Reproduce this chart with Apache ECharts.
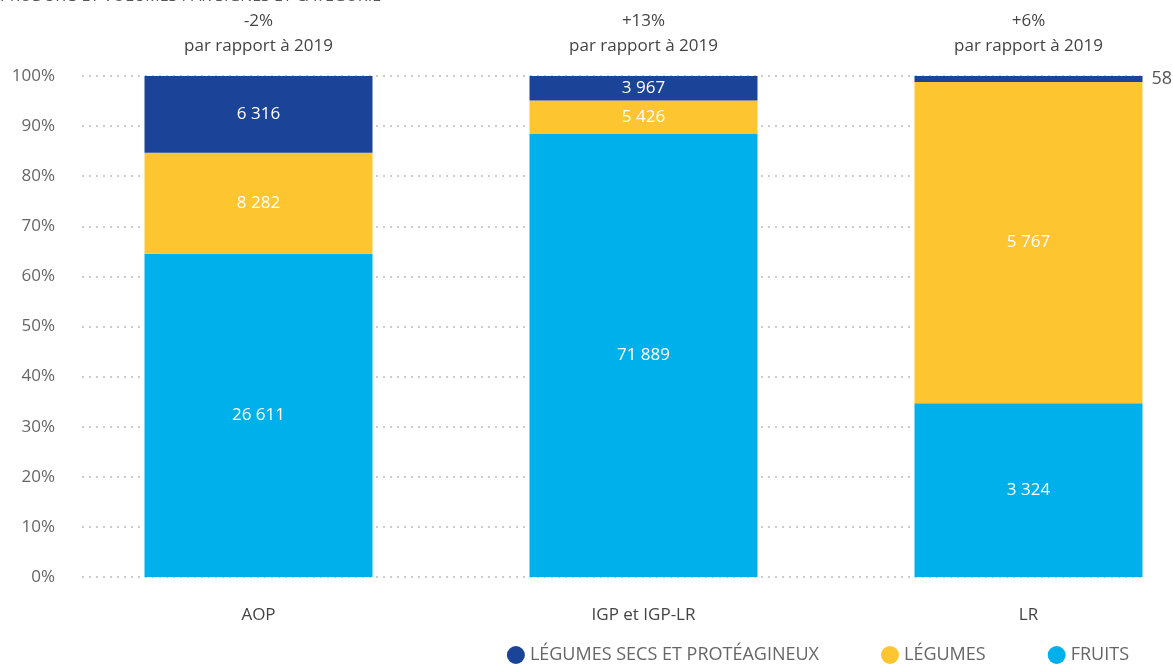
<!DOCTYPE html>
<html>
<head>
<meta charset="utf-8">
<script src="https://cdn.jsdelivr.net/npm/echarts@6/dist/echarts.min.js"></script>
<style>html,body{margin:0;padding:0;background:#fff}#c{width:1173px;height:664px}</style>
</head>
<body>
<div id="c"></div>
<script>
const categories = ['AOP', 'IGP et IGP-LR', 'LR'];
const changeLabels = ['-2%', '+13%', '+6%'];
const seriesNames = ['LÉGUMES SECS ET PROTÉAGINEUX', 'LÉGUMES', 'FRUITS'];
// share of each category (percent)
const fruitsPct = [64.5, 88.4, 34.7];
const legumesPct = [20.2, 6.7, 64.1];
const secsPct = [15.3, 4.9, 1.2];
// volumes shown as labels
const fruitsVol = ['26 611', '71 889', '3 324'];
const legumesVol = ['8 282', '5 426', '5 767'];
const secsVol = ['6 316', '3 967', '58'];
const yTicks = [0, 10, 20, 30, 40, 50, 60, 70, 80, 90, 100];

const FONT = 'Open Sans';
const colors = { secs: '#1b4397', leg: '#fdc530', fru: '#00b0ea' };

const chart = echarts.init(document.getElementById('c'));

function labelFrom(arr, extra) {
  return Object.assign({
    show: true, position: 'inside', color: '#fff', fontFamily: FONT, fontSize: 17,
    formatter: p => arr[p.dataIndex]
  }, extra || {});
}

chart.setOption({
  animation: false,
  textStyle: { fontFamily: FONT },
  graphic: [{
    type: 'text', left: 0, top: -12,
    style: { text: 'PRODUITS ET VOLUMES PAR SIGNES ET CATÉGORIE', fontFamily: FONT, fontSize: 16, fill: '#555' }
  }],
  legend: {
    bottom: 0, right: 44, padding: 0, itemGap: 62, icon: 'circle', itemWidth: 18, itemHeight: 18, itemTextGap: 4,
    data: seriesNames,
    textStyle: { color: '#666', fontSize: 18, fontFamily: FONT }
  },
  grid: [
    { left: 82, top: 76, width: 1059, height: 501, outerBoundsMode: 'none' },
    { left: 66, top: 76, width: 1155, height: 501, outerBoundsMode: 'none' }
  ],
  xAxis: [
    { gridIndex: 0, type: 'category', data: categories, show: false },
    {
      gridIndex: 1, type: 'category', data: categories, position: 'bottom',
      axisLine: { show: false }, axisTick: { show: false },
      axisLabel: { color: '#444', fontSize: 17, fontFamily: FONT, margin: 30 }
    },
    {
      gridIndex: 1, type: 'category', data: changeLabels, position: 'top',
      axisLine: { show: false }, axisTick: { show: false },
      axisLabel: {
        color: '#444', fontSize: 17, fontFamily: FONT, margin: 17, lineHeight: 25,
        formatter: v => v + '\npar rapport à 2019'
      }
    }
  ],
  yAxis: [
    {
      gridIndex: 0, type: 'value', min: 0, max: 100, interval: 10,
      axisLine: { show: false }, axisTick: { show: false },
      axisLabel: { color: '#666', fontSize: 17, fontFamily: FONT, margin: 27, formatter: '{value}%' },
      splitLine: { lineStyle: { color: '#cccccc', width: 2, type: [2, 5] } }
    },
    { gridIndex: 1, type: 'value', min: 0, max: 100, show: false, splitLine: { show: false } }
  ],
  series: [
    {
      name: seriesNames[2], type: 'bar', stack: 'a', xAxisIndex: 1, yAxisIndex: 1, barWidth: 228,
      data: fruitsPct, itemStyle: { color: colors.fru }, label: labelFrom(fruitsVol)
    },
    {
      name: seriesNames[1], type: 'bar', stack: 'a', xAxisIndex: 1, yAxisIndex: 1, barWidth: 228,
      data: legumesPct, itemStyle: { color: colors.leg }, label: labelFrom(legumesVol)
    },
    {
      name: seriesNames[0], type: 'bar', stack: 'a', xAxisIndex: 1, yAxisIndex: 1, barWidth: 228,
      itemStyle: { color: colors.secs },
      data: secsPct.map((v, i) => i === 2 ? {
        value: v,
        label: { position: 'right', color: '#555', distance: 9, fontSize: 18 }
      } : v),
      label: labelFrom(secsVol)
    }
  ]
});
</script>
</body>
</html>
